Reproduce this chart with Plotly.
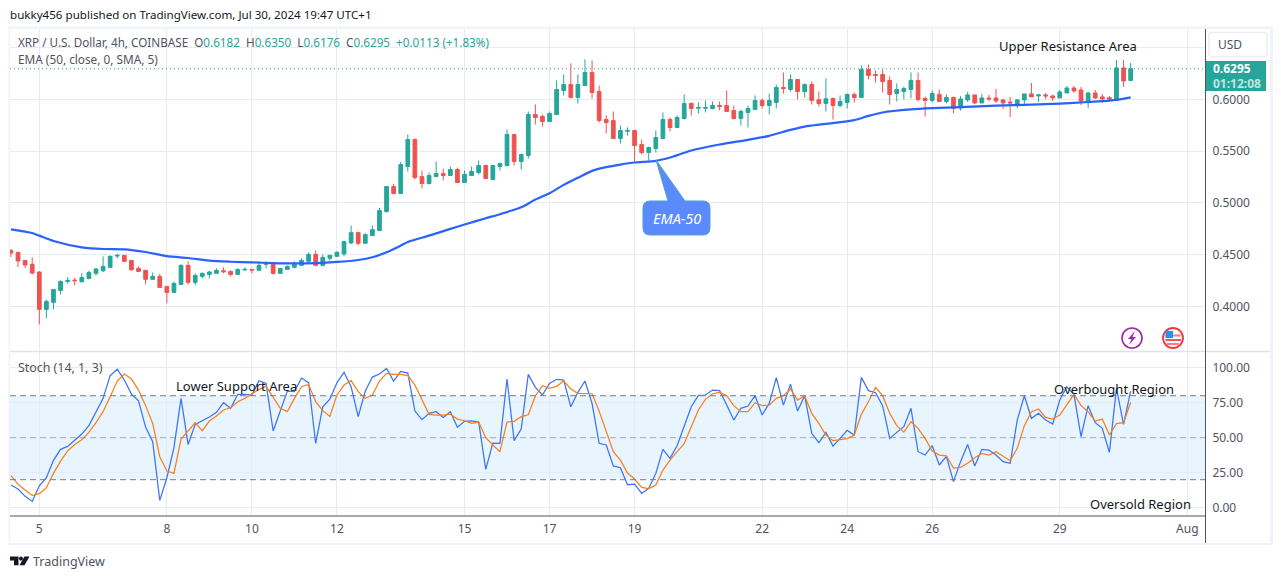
import numpy as np
import pandas as pd
import plotly.graph_objects as go

# 4h candles, XRP/USD
bar_times = pd.date_range("2024-07-04 08:00", periods=159, freq="4h")

opens = [
    .4542, .4523, .4445, .4407, .4333, .3972, .4040, .4155, .4242, .4255,
    .4239, .4271, .4320, .4345, .4378, .4487, .4494, .4445, .4368, .4349,
    .4262, .4291, .4194, .4136, .4213, .4397, .4233, .4291, .4310, .4320,
    .4345, .4339, .4310, .4352, .4358, .4349, .4407, .4407, .4320, .4358,
    .4378, .4397, .4436, .4503, .4397, .4465, .4484, .4507, .4614, .4713,
    .4610, .4684, .4733, .4916, .5158, .5090, .5351, .5612, .5254, .5187,
    .5254, .5283, .5264, .5322, .5196, .5264, .5293, .5361, .5225, .5351,
    .5361, .5660, .5399, .5457, .5853, .5834, .5786, .5853, .6085, .6143,
    .6018, .6133, .6259, .6075, .5805, .5795, .5621, .5692, .5699, .5563,
    .5486, .5525, .5621, .5805, .5728, .5815, .5960, .5914, .5914, .5911,
    .5940, .5940, .5892, .5815, .5873, .5902, .5989, .5940, .5969, .6114,
    .6095, .6191, .6075, .6143, .5995, .5960, .6008, .5940, .5969, .6047,
    .6018, .6288, .6240, .6240, .6182, .6056, .6075, .6095, .6182, .6008,
    .5989, .6047, .5979, .6018, .5916, .5994, .6042, .5965, .6013, .6013,
    .5994, .5974, .5955, .5994, .6052, .6032, .6042, .6032, .6013, .6061,
    .6109, .6090, .5984, .6061, .6023, .6016, .5994, .6303, .6182,
]
highs = [
    .4552, .4523, .4445, .4474, .4339, .4065, .4165, .4252, .4284, .4278,
    .4323, .4345, .4371, .4484, .4494, .4510, .4494, .4445, .4387, .4355,
    .4329, .4316, .4194, .4242, .4407, .4436, .4320, .4329, .4342, .4368,
    .4378, .4349, .4368, .4378, .4358, .4420, .4436, .4426, .4368, .4397,
    .4436, .4465, .4523, .4542, .4503, .4494, .4532, .4636, .4781, .4723,
    .4707, .4781, .4952, .5158, .5184, .5396, .5660, .5621, .5312, .5293,
    .5399, .5332, .5351, .5341, .5312, .5351, .5409, .5370, .5361, .5390,
    .5708, .5660, .5477, .5882, .5950, .5853, .5882, .6182, .6240, .6346,
    .6240, .6385, .6375, .6133, .5844, .5882, .5747, .5728, .5699, .5612,
    .5544, .5699, .5873, .5824, .5844, .6047, .5969, .5969, .5989, .5979,
    .5979, .6085, .5940, .5902, .5940, .6037, .6008, .6056, .6143, .6259,
    .6240, .6191, .6153, .6172, .6075, .6201, .6018, .6037, .6056, .6066,
    .6327, .6336, .6278, .6288, .6220, .6153, .6124, .6259, .6259, .6027,
    .6085, .6095, .6047, .6027, .6032, .6071, .6042, .6052, .6042, .6100,
    .6003, .6023, .6003, .6052, .6158, .6052, .6061, .6042, .6090, .6129,
    .6129, .6119, .6071, .6090, .6052, .6032, .6380, .6380, .6350,
]
lows = [
    .4477, .4381, .4371, .4310, .3827, .3885, .3972, .4117, .4220, .4204,
    .4233, .4262, .4300, .4333, .4378, .4465, .4436, .4345, .4333, .4213,
    .4262, .4184, .4030, .4136, .4213, .4213, .4204, .4271, .4271, .4320,
    .4320, .4291, .4310, .4349, .4320, .4349, .4368, .4310, .4320, .4358,
    .4368, .4397, .4426, .4387, .4387, .4445, .4484, .4485, .4601, .4591,
    .4610, .4684, .4733, .4907, .5090, .5090, .5303, .5225, .5138, .5177,
    .5254, .5216, .5264, .5196, .5196, .5264, .5274, .5235, .5225, .5312,
    .5351, .5361, .5322, .5428, .5757, .5737, .5786, .5853, .6037, .6008,
    .5960, .6133, .6008, .5776, .5670, .5621, .5573, .5650, .5399, .5467,
    .5409, .5486, .5621, .5689, .5728, .5805, .5844, .5863, .5873, .5902,
    .5892, .5882, .5805, .5747, .5728, .5902, .5911, .5853, .5911, .6056,
    .6075, .5998, .6017, .5950, .5931, .5882, .5805, .5921, .5911, .5969,
    .6018, .6191, .6162, .6066, .5950, .5979, .5998, .6008, .5979, .5834,
    .5969, .5979, .5960, .5863, .5891, .5974, .5955, .5965, .5984, .5965,
    .5907, .5829, .5916, .5955, .6023, .5974, .6003, .5984, .6013, .6061,
    .6061, .5945, .5916, .6003, .5965, .5984, .5994, .6119, .6176,
]
closes = [
    .4516, .4439, .4400, .4323, .3972, .4049, .4165, .4242, .4252, .4249,
    .4281, .4329, .4362, .4387, .4484, .4494, .4436, .4355, .4339, .4262,
    .4291, .4184, .4136, .4223, .4397, .4233, .4300, .4320, .4333, .4349,
    .4336, .4310, .4358, .4358, .4352, .4397, .4413, .4320, .4368, .4387,
    .4416, .4445, .4503, .4397, .4474, .4494, .4523, .4626, .4713, .4610,
    .4694, .4742, .4926, .5158, .5090, .5370, .5612, .5245, .5187, .5264,
    .5283, .5264, .5322, .5196, .5274, .5303, .5361, .5235, .5361, .5380,
    .5660, .5399, .5467, .5853, .5824, .5786, .5863, .6095, .6143, .6018,
    .6143, .6259, .6066, .5795, .5776, .5621, .5699, .5699, .5554, .5486,
    .5535, .5631, .5805, .5728, .5824, .5960, .5911, .5921, .5921, .5940,
    .5931, .5882, .5815, .5882, .5911, .5989, .5940, .5989, .6114, .6104,
    .6191, .6075, .6143, .5989, .5960, .6005, .5940, .5979, .6047, .6018,
    .6288, .6230, .6230, .6172, .6046, .6095, .6104, .6182, .5998, .5989,
    .6056, .5979, .6018, .5911, .6003, .6042, .5965, .6013, .6003, .5984,
    .5965, .5965, .5994, .6052, .6023, .6042, .6032, .6013, .6071, .6109,
    .6081, .5984, .6061, .6013, .6003, .6003, .6303, .6177, .6295,
]

# EMA read at these bars (0 = Jul 5 00:00)
ema_bars = [
    -4, -1, 0, 2, 6, 9, 12, 15, 18, 21, 24, 27, 30, 33, 36, 39, 42, 45, 47, 49,
    51, 52, 55, 58, 60, 63, 65, 68, 70, 72, 74, 76, 78, 80, 82, 84, 87, 89, 92,
    96, 100, 103, 106, 108, 111, 115, 117, 119, 123, 126, 130, 135, 140, 144,
    148, 151, 152, 154,
]
ema_values = [
    .4745, .4709, .4684, .4632, .4571, .4555, .4552, .4526, .4487, .4468,
    .4442, .4432, .4426, .4419, .4416, .4419, .4430, .4449, .4475, .4523,
    .4588, .4623, .4684, .4749, .4791, .4852, .4891, .4958, .5032, .5093,
    .5174, .5242, .5309, .5345, .5370, .5390, .5406, .5438, .5506, .5564,
    .5609, .5647, .5705, .5737, .5763, .5799, .5840, .5873, .5902, .5914,
    .5925, .5939, .5948, .5958, .5974, .5987, .5994, .6019,
]

stoch_k = [
    16.2, 13.3, 8.1, 4.5, 15.7, 21.4, 33.8, 41.7, 43.8, 48.3,
    52.6, 58.6, 68.6, 78.1, 94.3, 99.0, 91.2, 81.2, 76.4, 57.6,
    47.1, 5.2, 21.4, 42.9, 78.1, 45.2, 59.5, 61.9, 64.8, 68.1,
    75.0, 71.0, 81.0, 81.0, 80.5, 90.7, 88.8, 54.8, 69.0, 83.3,
    82.9, 92.6, 89.3, 46.0, 72.1, 77.6, 89.3, 96.7, 86.4, 65.0,
    83.3, 93.3, 95.5, 99.5, 90.5, 97.4, 96.2, 69.0, 62.9, 67.4,
    68.6, 64.5, 68.6, 57.4, 61.7, 62.1, 61.2, 27.4, 46.2, 46.0,
    91.9, 47.9, 56.2, 95.2, 86.0, 80.5, 88.8, 91.7, 91.2, 72.1,
    82.4, 90.5, 74.5, 46.0, 44.8, 29.8, 28.6, 16.4, 16.9, 10.2,
    13.8, 24.5, 41.7, 35.2, 44.3, 58.3, 72.1, 80.2, 80.5, 84.0,
    83.6, 73.3, 62.6, 71.0, 72.6, 80.0, 66.2, 74.5, 92.9, 73.3,
    88.3, 69.0, 80.0, 53.1, 46.4, 53.8, 44.0, 49.5, 55.2, 51.9,
    93.1, 83.6, 82.1, 72.9, 49.5, 53.8, 57.9, 71.0, 40.0, 37.6,
    44.3, 30.5, 36.7, 18.6, 32.9, 45.2, 29.8, 41.7, 41.2, 37.6,
    32.9, 31.7, 62.6, 80.0, 63.8, 67.4, 62.6, 59.8, 76.9, 86.4,
    81.0, 50.7, 72.9, 60.7, 56.7, 39.5, 85.2, 59.5, 83.3,
]
stoch_d = [
    22.9, 16.7, 12.6, 8.8, 10.0, 14.3, 24.5, 33.3, 40.5, 45.2,
    48.6, 53.8, 60.7, 68.6, 79.3, 90.5, 95.5, 91.9, 84.0, 72.9,
    60.2, 36.4, 26.2, 24.5, 49.0, 54.8, 60.7, 55.0, 61.9, 65.5,
    69.8, 71.4, 75.7, 78.1, 81.2, 84.5, 86.7, 79.3, 71.0, 68.6,
    78.1, 86.4, 88.0, 75.7, 69.3, 65.2, 80.5, 87.6, 90.7, 82.9,
    78.1, 80.5, 90.5, 96.0, 95.2, 95.2, 94.3, 87.6, 76.9, 66.7,
    66.2, 66.2, 66.9, 63.3, 62.1, 60.2, 61.2, 50.0, 44.8, 40.0,
    61.2, 61.7, 65.0, 66.4, 79.8, 87.1, 85.2, 86.7, 90.5, 84.8,
    81.7, 81.4, 81.4, 69.0, 54.3, 40.0, 34.0, 24.8, 20.5, 14.5,
    13.6, 16.2, 26.9, 34.0, 40.0, 45.7, 57.9, 69.8, 77.4, 81.4,
    82.4, 80.0, 72.9, 68.6, 68.6, 75.0, 72.9, 73.3, 78.1, 80.0,
    84.8, 76.9, 79.8, 67.4, 60.2, 51.9, 47.9, 48.6, 49.3, 51.9,
    66.7, 75.7, 86.0, 80.0, 67.4, 58.6, 54.0, 61.4, 56.7, 49.5,
    40.5, 37.6, 37.1, 28.3, 28.8, 31.7, 35.7, 38.8, 37.6, 40.0,
    36.7, 33.6, 42.4, 58.6, 68.6, 70.5, 64.5, 63.3, 66.2, 73.8,
    81.0, 72.9, 68.6, 61.9, 63.3, 51.9, 60.0, 60.7, 75.2,
]

price_ticks = [0.40, 0.45, 0.50, 0.55, 0.60, 0.65]
price_labels = ["0.4000", "0.4500", "0.5000", "0.5500", "0.6000", ""]
stoch_ticks = [0, 25, 50, 75, 100]
stoch_labels = ["0.00", "25.00", "50.00", "75.00", "100.00"]
day_ticks = ["2024-07-05", "2024-07-08", "2024-07-10", "2024-07-12", "2024-07-15", "2024-07-17",
             "2024-07-19", "2024-07-22", "2024-07-24", "2024-07-26", "2024-07-29", "2024-08-01"]
day_labels = ["5", "8", "10", "12", "15", "17", "19", "22", "24", "26", "29", "Aug"]
last_close = 0.6295

W, H = 1281, 579
FONT = "Noto Sans"
GRID = "#e4edf3"
AXIS = "#50535e"
TEXT = "#131722"
TEAL = "#26a69a"
RED = "#ef5350"
FRAME = "#f0f3fa"


def px(x):
    return x / W


def py(y):
    return 1 - y / H


def pt(x, y):
    return f"{px(x):.5f},{py(y):.5f}"


fig = go.Figure()

fig.add_trace(go.Candlestick(
    x=bar_times, open=opens, high=highs, low=lows, close=closes,
    increasing=dict(line=dict(color=TEAL, width=1), fillcolor=TEAL),
    decreasing=dict(line=dict(color=RED, width=1), fillcolor=RED),
    whiskerwidth=0, xaxis="x", yaxis="y", hoverinfo="skip", showlegend=False,
))
ema_times = bar_times[np.array(ema_bars) + 4]
fig.add_trace(go.Scatter(
    x=ema_times, y=ema_values, mode="lines", xaxis="x", yaxis="y",
    line=dict(color="#2962ff", width=2.2, shape="spline", smoothing=0.7), showlegend=False, hoverinfo="skip",
))
fig.add_trace(go.Scatter(
    x=bar_times, y=stoch_k, mode="lines", xaxis="x", yaxis="y2",
    line=dict(color="#3b74f5", width=1.25), showlegend=False, hoverinfo="skip",
))
fig.add_trace(go.Scatter(
    x=bar_times, y=stoch_d, mode="lines", xaxis="x", yaxis="y2",
    line=dict(color="#f97f1e", width=1.25), showlegend=False, hoverinfo="skip",
))

day0 = pd.Timestamp("2024-07-05")
x_start = day0 + pd.Timedelta(days=(10 - 39.3) / 42.52)
x_end = day0 + pd.Timedelta(days=(1205 - 39.3) / 42.52)

fig.update_layout(
    width=W, height=H, margin=dict(l=0, r=0, t=0, b=0),
    paper_bgcolor="white", plot_bgcolor="white",
    font=dict(family=FONT, size=12, color=AXIS),
    boxgap=0.25,
    xaxis=dict(
        domain=[px(10), px(1205)], range=[x_start, x_end], anchor="y2",
        tickvals=day_ticks, ticktext=day_labels, tickmode="array",
        showgrid=True, gridcolor=GRID, gridwidth=1, zeroline=False, showline=False,
        ticks="outside", ticklen=2, tickcolor="rgba(0,0,0,0)",
        rangeslider=dict(visible=False),
    ),
    yaxis=dict(
        domain=[py(351), py(29)], range=[0.6 - (351 - 99.3) / 1036, 0.6 + (99.3 - 29) / 1036],
        side="right", anchor="x", tickvals=price_ticks, ticktext=price_labels, tickmode="array",
        showgrid=True, gridcolor=GRID, zeroline=False, showline=False,
        ticks="outside", ticklen=4, tickcolor="rgba(0,0,0,0)",
    ),
    yaxis2=dict(
        domain=[py(516), py(352)], range=[(507.7 - 516) / 1.4, (507.7 - 352) / 1.4],
        side="right", anchor="x", tickvals=stoch_ticks, ticktext=stoch_labels, tickmode="array",
        showgrid=True, gridcolor=GRID, zeroline=False, showline=False,
        ticks="outside", ticklen=4, tickcolor="rgba(0,0,0,0)",
    ),
)


def line(x0, y0, x1, y1, color, width=1, dash="solid"):
    fig.add_shape(type="line", xref="paper", yref="paper", x0=px(x0), y0=py(y0), x1=px(x1), y1=py(y1),
                  line=dict(color=color, width=width, dash=dash))


def rect(x0, y0, x1, y1, fill, border=None, width=1):
    fig.add_shape(type="rect", xref="paper", yref="paper", x0=px(x0), y0=py(y0), x1=px(x1), y1=py(y1),
                  fillcolor=fill, line=dict(color=border or fill, width=width if border else 0))


def path(d, fill, border=None, width=1):
    fig.add_shape(type="path", xref="paper", yref="paper", path=d, fillcolor=fill,
                  line=dict(color=border or fill, width=width if border else 0))


def circle(cx, cy, r, fill, border, width=2):
    fig.add_shape(type="circle", xref="paper", yref="paper", x0=px(cx - r), y0=py(cy - r), x1=px(cx + r), y1=py(cy + r),
                  fillcolor=fill, line=dict(color=border, width=width))


def label(x, y, text, color=TEXT, size=13, anchor="left"):
    fig.add_annotation(xref="paper", yref="paper", x=px(x), y=py(y), text=text, showarrow=False,
                       xanchor=anchor, yanchor="middle", align=anchor, font=dict(color=color, size=size, family=FONT),
                       borderpad=0, borderwidth=0)


# stochastic band and its levels
fig.add_shape(type="rect", xref="paper", yref="y2", x0=px(10), x1=px(1205), y0=20, y1=80,
              fillcolor="rgba(33,150,243,0.1)", line=dict(width=0), layer="below")
for lvl, col in [(80, "#787b86"), (50, "rgba(120,123,134,0.6)"), (20, "#787b86")]:
    fig.add_shape(type="line", xref="paper", yref="y2", x0=px(10), x1=px(1205), y0=lvl, y1=lvl,
                  line=dict(color=col, width=1, dash="6px,4px"))

# last price line
fig.add_shape(type="line", xref="paper", yref="y", x0=px(10), x1=px(1205), y0=last_close, y1=last_close,
              line=dict(color=TEAL, width=1, dash="1px,3px"))

# frame and pane borders
rect(8.5, 26.5, 10, 545, FRAME)
rect(8.5, 26.5, 1273, 29, FRAME)
rect(8.5, 543, 1273, 545, FRAME)
rect(1270, 26.5, 1273, 545, FRAME)
line(10, 351.5, 1270, 351.5, "#e0e3eb", 1.5)
line(10, 516, 1205, 516, AXIS, 1)
line(1205.5, 29, 1205.5, 543, AXIS, 1)

# price tag and currency button
rect(1206, 61, 1266, 91, TEAL)
label(1213, 68.5, "<b>0.6295</b>", "#ffffff", 12)
label(1213, 83, "<b>01:12:08</b>", "#bfe5e1", 12)
fig.add_shape(type="path", xref="paper", yref="paper",
              path=(f"M {pt(1212, 32.5)} L {pt(1264, 32.5)} Q {pt(1267, 32.5)} {pt(1267, 35.5)} L {pt(1267, 53.5)} "
                    f"Q {pt(1267, 56.5)} {pt(1264, 56.5)} L {pt(1212, 56.5)} Q {pt(1209, 56.5)} {pt(1209, 53.5)} "
                    f"L {pt(1209, 35.5)} Q {pt(1209, 32.5)} {pt(1212, 32.5)} Z"),
              fillcolor="white", line=dict(color="#eceef3", width=1.5))
label(1218, 44.5, "USD", AXIS, 12)

# EMA-50 callout
path(f"M {pt(650, 201)} L {pt(668, 201)} L {pt(656, 160)} L {pt(685, 201)} L {pt(703, 201)} "
     f"Q {pt(710, 201)} {pt(710, 208)} L {pt(710, 228)} Q {pt(710, 235)} {pt(703, 235)} L {pt(650, 235)} "
     f"Q {pt(643, 235)} {pt(643, 228)} L {pt(643, 208)} Q {pt(643, 201)} {pt(650, 201)} Z",
     "#5b8aff", "#4fa3c7", 1)
label(676.5, 218, "<i>EMA-50</i>", "#ffffff", 14.5, "center")

# alert icons
circle(1132, 338, 10, "white", "#9c27b0", 1.6)
path(f"M {pt(1135, 331)} L {pt(1128, 339)} L {pt(1131.5, 339)} L {pt(1129, 345)} L {pt(1136, 337)} L {pt(1132.5, 337)} Z", "#9c27b0")
circle(1173, 338, 10, "white", "#f23645", 1.8)
rect(1165.5, 334.5, 1180.5, 336.5, "#f77c80")
rect(1165.5, 339, 1181, 341, "#f7525f")
rect(1167, 343, 1179, 345, "#f77c80")
rect(1165.5, 331, 1173, 338, "#2196f3")

# TradingView logo
path(f"M {pt(10, 556.6)} L {pt(18.5, 556.6)} L {pt(18.5, 565.3)} L {pt(14, 565.3)} L {pt(14, 560.5)} L {pt(10, 560.5)} Z", "#131722")
circle(21, 558.6, 1.8, "#131722", "#131722", 0.5)
path(f"M {pt(24.5, 556.6)} L {pt(29.5, 556.6)} L {pt(24.5, 565.3)} L {pt(19.5, 565.3)} Z", "#131722")
label(33, 561, "TradingView", "#50535e", 12.5)

# texts
label(10, 15, "bukky456 published on TradingView.com, Jul 30, 2024 19:47 UTC+1", "#131722", 11.6)
ohlc = "#26a69a"
label(18, 41.5,
      f"XRP / U.S. Dollar, 4h, COINBASE&nbsp;&nbsp;O<span style='color:{ohlc}'>0.6182</span>&nbsp;&nbsp;"
      f"H<span style='color:{ohlc}'>0.6350</span>&nbsp;&nbsp;L<span style='color:{ohlc}'>0.6176</span>&nbsp;&nbsp;"
      f"C<span style='color:{ohlc}'>0.6295</span>&nbsp;&nbsp;<span style='color:{ohlc}'>+0.0113 (+1.83%)</span>",
      AXIS, 11.7)
label(18, 59, "EMA (50, close, 0, SMA, 5)", AXIS, 11.8)
label(18, 367, "Stoch (14, 1, 3)", AXIS, 12.4)
label(1068, 46, "Upper Resistance Area", TEXT, 13, "center")
label(236.5, 386, "Lower Support Area", TEXT, 13, "center")
label(1114, 388.5, "Overbought Region", TEXT, 13, "center")
label(1140, 503.5, "Oversold Region", TEXT, 13, "center")

fig.write_html("out.html", config=dict(displayModeBar=False),
               post_script="document.body.style.margin='0';document.body.style.overflow='hidden';")
